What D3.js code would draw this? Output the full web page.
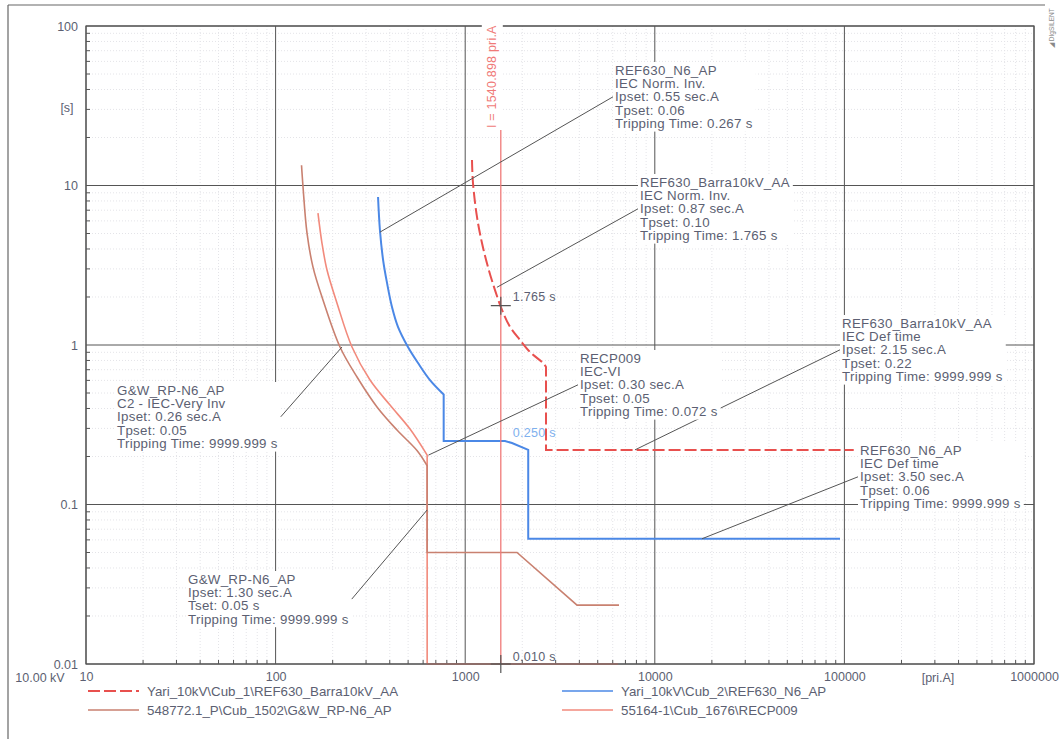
<!DOCTYPE html>
<html>
<head>
<meta charset="utf-8">
<script src="https://cdn.jsdelivr.net/npm/d3@7"></script>
<style>
  body { margin: 0; background: #fff; }
  svg { font-family: Arial, "Liberation Sans", sans-serif; }
</style>
</head>
<body>
<svg id="chart"></svg>
<script>
const width = 1064;
const height = 739;

// axis ticks
const xTicks = [10, 100, 1000, 10000, 100000, 1000000];
const yTicks = [0.01, 0.1, 1, 10, 100];

// curves, [current pri.A, time s]
const barraPoints = [[1086, 14.45], [1099, 10.4], [1154, 6.35], [1226, 4.36], [1319, 3.08], [1436, 2.21],
  [1564, 1.66], [1723, 1.30], [1945, 1.075], [2197, 0.904], [2572, 0.771], [2668, 0.728],
  [2668, 0.22], [112000, 0.22]];
const n6Points = [[347, 8.47], [355, 5.26], [369, 3.41], [387, 2.45], [411, 1.73], [442, 1.30],
  [499, 0.972], [564, 0.771], [652, 0.603], [770, 0.49], [770, 0.25], [1622, 0.25],
  [1765, 0.243], [2150, 0.22], [2150, 0.061], [94800, 0.061]];
const gwPoints = [[137, 13.4], [139.5, 9.83], [146.4, 5.04], [157.5, 3.08], [177.8, 1.915], [218.6, 0.972],
  [268.8, 0.63], [342.6, 0.409], [436.9, 0.293], [556.9, 0.218], [630, 0.175], [630, 0.05],
  [1876, 0.05], [3888, 0.0234], [6475, 0.0234]];
const recpPoints = [[167.3, 6.72], [175.6, 4.36], [186.7, 2.95], [210.8, 1.83], [252.9, 0.972],
  [314.8, 0.603], [401.2, 0.42], [511.7, 0.297], [630, 0.204], [630, 0.01], [6400, 0.01]];

// fault current line and marked times
const faultCurrent = 1540.898;
const faultMarks = [1.765, 0.25, 0.01];
const faultLabels = ["1.765 s", "0.250 s", "0.010 s"];

// annotations
const noteLines = [
  ["REF630_N6_AP", "IEC Norm. Inv.", "Ipset: 0.55 sec.A", "Tpset: 0.06", "Tripping Time: 0.267 s"],
  ["REF630_Barra10kV_AA", "IEC Norm. Inv.", "Ipset: 0.87 sec.A", "Tpset: 0.10", "Tripping Time: 1.765 s"],
  ["REF630_Barra10kV_AA", "IEC Def time", "Ipset: 2.15 sec.A", "Tpset: 0.22", "Tripping Time: 9999.999 s"],
  ["RECP009", "IEC-VI", "Ipset: 0.30 sec.A", "Tpset: 0.05", "Tripping Time: 0.072 s"],
  ["REF630_N6_AP", "IEC Def time", "Ipset: 3.50 sec.A", "Tpset: 0.06", "Tripping Time: 9999.999 s"],
  ["G&W_RP-N6_AP", "C2 - IEC-Very Inv", "Ipset: 0.26 sec.A", "Tpset: 0.05", "Tripping Time: 9999.999 s"],
  ["G&W_RP-N6_AP", "Ipset: 1.30 sec.A", "Tset: 0.05 s", "Tripping Time: 9999.999 s"]
];
const noteTargets = [[355, 5.1], [1470, 2.3], [7860, 0.22], [640, 0.204], [17750, 0.061], [224, 0.972], [630, 0.0924]];
const noteX = [615, 640, 842, 580, 860, 117, 188];
const noteY = [70, 182, 323, 358, 450, 390, 579];

const legendNames = ["Yari_10kV\\Cub_1\\REF630_Barra10kV_AA", "Yari_10kV\\Cub_2\\REF630_N6_AP",
  "548772.1_P\\Cub_1502\\G&W_RP-N6_AP", "55164-1\\Cub_1676\\RECP009"];

const colors = { barra: "#e8504e", n6: "#4b88e6", gw: "#c98170", recp: "#f28a7c", fault: "#f07a78" };
const textColor = "#5c5f72";
const gridColor = "#555";

const margin = { left: 86, top: 26, right: 1034, bottom: 664 };

const svg = d3.select("#chart").attr("width", width).attr("height", height);

const x = d3.scaleLog().domain([10, 1e6]).range([margin.left, margin.right]);
const y = d3.scaleLog().domain([0.01, 100]).range([margin.bottom, margin.top]);

// outer frame (top and left only visible)
svg.append("line").attr("x1", 8).attr("y1", 5).attr("x2", 1045).attr("y2", 5).attr("stroke", "#666").attr("stroke-width", 1.2);
svg.append("line").attr("x1", 8).attr("y1", 5).attr("x2", 8).attr("y2", height).attr("stroke", "#666").attr("stroke-width", 1.2);

// minor grid
const minorX = [];
for (let e = 1; e < 6; e++) for (let m = 2; m < 10; m++) minorX.push(m * Math.pow(10, e));
const minorY = [];
for (let e = -2; e < 2; e++) for (let m = 2; m < 10; m++) minorY.push(m * Math.pow(10, e));

const grid = svg.append("g");
grid.selectAll(".mx").data(minorX).enter().append("line")
  .attr("x1", d => x(d)).attr("x2", d => x(d)).attr("y1", margin.top).attr("y2", margin.bottom)
  .attr("stroke", "#e4e4e8").attr("stroke-dasharray", "1,2");
grid.selectAll(".my").data(minorY).enter().append("line")
  .attr("y1", d => y(d)).attr("y2", d => y(d)).attr("x1", margin.left).attr("x2", margin.right)
  .attr("stroke", "#e4e4e8").attr("stroke-dasharray", "1,2");

// major grid
grid.selectAll(".gx").data(xTicks).enter().append("line")
  .attr("x1", d => x(d)).attr("x2", d => x(d)).attr("y1", margin.top).attr("y2", margin.bottom)
  .attr("stroke", gridColor).attr("stroke-width", 1);
grid.selectAll(".gy").data(yTicks).enter().append("line")
  .attr("y1", d => y(d)).attr("y2", d => y(d)).attr("x1", margin.left).attr("x2", margin.right)
  .attr("stroke", gridColor).attr("stroke-width", 1);

// minor ticks on axes
grid.selectAll(".tx").data(minorX).enter().append("line")
  .attr("x1", d => x(d)).attr("x2", d => x(d)).attr("y1", margin.bottom).attr("y2", margin.bottom - 4)
  .attr("stroke", gridColor);
grid.selectAll(".ty").data(minorY).enter().append("line")
  .attr("y1", d => y(d)).attr("y2", d => y(d)).attr("x1", margin.left).attr("x2", margin.left + 4)
  .attr("stroke", gridColor);

// axis labels through d3 axes
const xAxis = svg.append("g").attr("transform", `translate(0,${margin.bottom})`)
  .call(d3.axisBottom(x).tickValues(xTicks).tickSize(0).tickPadding(8).tickFormat(d3.format("d")));
xAxis.select(".domain").remove();
xAxis.selectAll("text").attr("fill", textColor).style("font-size", "12.5px")
  .attr("font-family", "Arial, 'Liberation Sans', sans-serif");

const yAxis = svg.append("g").attr("transform", `translate(${margin.left},0)`)
  .call(d3.axisLeft(y).tickValues(yTicks).tickSize(0).tickPadding(8).tickFormat(d => d >= 1 ? d3.format("d")(d) : String(d)));
yAxis.select(".domain").remove();
yAxis.selectAll("text").attr("fill", textColor).style("font-size", "12.5px")
  .attr("font-family", "Arial, 'Liberation Sans', sans-serif");

svg.append("text").attr("x", 67).attr("y", 112).attr("text-anchor", "middle")
  .attr("fill", textColor).style("font-size", "12.5px").text("[s]");
svg.append("text").attr("x", 40).attr("y", 682).attr("text-anchor", "middle")
  .attr("fill", textColor).style("font-size", "12.5px").text("10.00 kV");
svg.append("text").attr("x", 938).attr("y", 682).attr("text-anchor", "middle")
  .attr("fill", textColor).style("font-size", "12.5px").text("[pri.A]");

// curves: smooth inverse part, straight steps after the first vertical drop
const smoothLine = d3.line().x(d => x(d[0])).y(d => y(d[1])).curve(d3.curveCatmullRom.alpha(0.5));
const straightLine = d3.line().x(d => x(d[0])).y(d => y(d[1]));
function curvePath(pts) {
  let k = pts.findIndex((p, i) => i < pts.length - 1 && p[0] === pts[i + 1][0]);
  if (k < 0) k = pts.length - 1;
  return smoothLine(pts.slice(0, k + 1)) + straightLine(pts.slice(k)).replace(/^M/, "L");
}

const curves = svg.append("g");
curves.append("path").datum(recpPoints).attr("d", curvePath).attr("fill", "none")
  .attr("stroke", colors.recp).attr("stroke-width", 1.6);
curves.append("path").datum(gwPoints).attr("d", curvePath).attr("fill", "none")
  .attr("stroke", colors.gw).attr("stroke-width", 1.6);
curves.append("path").datum(n6Points).attr("d", curvePath).attr("fill", "none")
  .attr("stroke", colors.n6).attr("stroke-width", 2);
curves.append("path").datum(barraPoints).attr("d", curvePath).attr("fill", "none")
  .attr("stroke", colors.barra).attr("stroke-width", 2).attr("stroke-dasharray", "12,4");

// fault current line
const fx = x(faultCurrent);
svg.append("line").attr("x1", fx).attr("x2", fx).attr("y1", margin.top).attr("y2", margin.bottom)
  .attr("stroke", colors.fault).attr("stroke-width", 1.3);

// markers
svg.selectAll(".cross").data([faultMarks[0], faultMarks[2]]).enter().append("path")
  .attr("d", d => `M${fx - 10},${y(d)}H${fx + 10}M${fx},${y(d) - 9}V${y(d) + 9}`)
  .attr("stroke", "#555").attr("stroke-width", 1.2);
svg.selectAll(".fl").data(faultMarks).enter().append("text")
  .attr("x", fx + 12).attr("y", (d, i) => y(d) - [5, 4, 3][i])
  .attr("fill", (d, i) => i === 1 ? "#7eb0ee" : textColor)
  .style("font-size", "12.5px").style("letter-spacing", "0.3px").text((d, i) => faultLabels[i]);

// annotations
const lineGap = 13.4;
const notes = svg.append("g");
noteLines.forEach((lines, i) => {
  const g = notes.append("g");
  const bg = g.append("rect").attr("fill", "#fff");
  const t = g.append("text").attr("fill", textColor).style("font-size", "13.3px").style("letter-spacing", "0.3px");
  lines.forEach((s, k) => {
    t.append("tspan").attr("x", noteX[i]).attr("y", noteY[i] + k * lineGap + 4.5).text(s);
  });
  const w = d3.max(t.selectAll("tspan").nodes(), n => n.getComputedTextLength());
  const top = noteY[i] - 8;
  const h = (lines.length - 1) * lineGap + 16;
  bg.attr("x", noteX[i] - 2).attr("y", top).attr("width", w + 5).attr("height", h);
  const cy = noteY[i] + (lines.length - 1) * lineGap / 2;
  const tx = x(noteTargets[i][0]);
  const ty = y(noteTargets[i][1]);
  const sx = tx < noteX[i] ? noteX[i] - 2 : noteX[i] + w + 3;
  g.insert("line", "text").attr("x1", sx).attr("y1", cy).attr("x2", tx).attr("y2", ty)
    .attr("stroke", "#555").attr("stroke-width", 1);
});

// plot frame
svg.append("rect").attr("x", margin.left).attr("y", margin.top)
  .attr("width", margin.right - margin.left).attr("height", margin.bottom - margin.top)
  .attr("fill", "none").attr("stroke", gridColor).attr("stroke-width", 1.2);

// fault current label on top of the frame
svg.append("rect").attr("x", fx - 19).attr("y", 18).attr("width", 21).attr("height", 112).attr("fill", "#fff");
svg.append("text").attr("transform", `translate(${fx - 5},128) rotate(-90)`)
  .attr("fill", colors.fault).style("font-size", "12.5px").style("letter-spacing", "0.2px")
  .text(`I = ${faultCurrent} pri.A`);

// legend
const legendX = [88, 562];
const legendTextX = [147, 621];
const legendY = [691, 710];
const legendColors = [colors.barra, colors.n6, colors.gw, colors.recp];
const legend = svg.append("g");
legendNames.forEach((name, i) => {
  const col = i % 2, row = Math.floor(i / 2);
  legend.append("line").attr("x1", legendX[col]).attr("x2", legendX[col] + 51)
    .attr("y1", legendY[row]).attr("y2", legendY[row])
    .attr("stroke", legendColors[i]).attr("stroke-width", i === 0 ? 2 : 1.6)
    .attr("stroke-dasharray", i === 0 ? "12,4" : null);
  legend.append("text").attr("x", legendTextX[col]).attr("y", legendY[row] + 4.5)
    .attr("fill", textColor).style("font-size", "13.3px").text(name);
});

// watermark
svg.append("text").attr("transform", "translate(1054,48) rotate(-90)")
  .attr("fill", "#888").style("font-size", "6.5px").text("◢ DIgSILENT");
</script>
</body>
</html>
